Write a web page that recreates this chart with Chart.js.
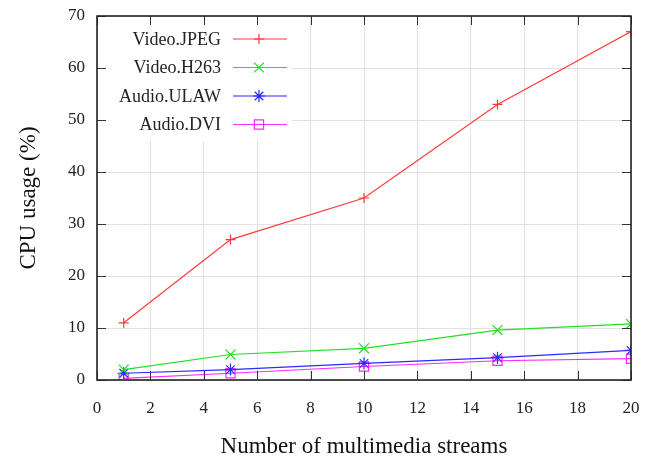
<!DOCTYPE html>
<html>
<head>
<meta charset="utf-8">
<script src="https://cdn.jsdelivr.net/npm/chart.js@4"></script>
<style>
  html, body { margin:0; padding:0; background:#fff; }
  #wrap { width:650px; height:461px; }
</style>
</head>
<body>
<div id="wrap"><canvas id="c" width="650" height="461"></canvas></div>
<script>
const streams = [1, 5, 10, 15, 20];
const videoJpeg = [11, 27, 35, 53, 67];
const videoH263 = [2.0, 4.9, 6.1, 9.6, 10.8];
const audioUlaw = [1.3, 2.0, 3.2, 4.3, 5.7];
const audioDvi  = [0.3, 1.3, 2.6, 3.7, 4.1];

const seriesNames = ['Video.JPEG', 'Video.H263', 'Audio.ULAW', 'Audio.DVI'];
const seriesColors = ['#ff3a3a', '#22e022', '#2a2aff', '#ff2aff'];
const seriesMarkers = ['cross', 'crossRot', 'star', 'rect'];
const markerSizes = [5, 7, 6, 6.5];

const serif = "'Liberation Serif', 'DejaVu Serif', serif";

function pts(vals){ return vals.map((v,i) => ({x: streams[i], y: v})); }

const allSeries = [videoJpeg, videoH263, audioUlaw, audioDvi];

const datasets = allSeries.map((vals, i) => ({
  label: seriesNames[i],
  data: pts(vals),
  borderColor: seriesColors[i],
  backgroundColor: 'rgba(0,0,0,0)',
  borderWidth: 1.2,
  pointStyle: seriesMarkers[i],
  pointRadius: markerSizes[i],
  pointBorderWidth: 1.2,
  pointBorderColor: seriesColors[i],
  tension: 0
}));

// gnuplot-ish frame, inward ticks and legend on the left with samples to the right
const framePlugin = {
  id: 'frame',
  afterDatasetsDraw(chart){
    const {ctx, chartArea: a, scales} = chart;
    ctx.save();

    // legend
    ctx.fillStyle = '#fff';
    ctx.fillRect(a.left + 1, a.top + 1, 194, 124);
    ctx.font = '18px ' + serif;
    ctx.textAlign = 'right';
    ctx.textBaseline = 'middle';
    for(let i=0;i<seriesNames.length;i++){
      const y = 39 + i*28.5;
      ctx.fillStyle = '#222';
      ctx.fillText(seriesNames[i], 221, y + 1);
      ctx.strokeStyle = seriesColors[i];
      ctx.lineWidth = 1.2;
      ctx.beginPath(); ctx.moveTo(233, y); ctx.lineTo(287, y); ctx.stroke();
      ctx.fillStyle = 'rgba(0,0,0,0)';
      Chart.helpers.drawPoint(ctx, {pointStyle: seriesMarkers[i], radius: markerSizes[i], borderWidth:1.2}, 259, y);
    }

    // ticks
    ctx.strokeStyle = '#333';
    ctx.lineWidth = 1;
    const tl = 9;
    ctx.beginPath();
    scales.x.ticks.forEach(t => {
      const px = Math.round(scales.x.getPixelForValue(t.value)) + 0.5;
      ctx.moveTo(px, a.bottom); ctx.lineTo(px, a.bottom - tl);
      ctx.moveTo(px, a.top); ctx.lineTo(px, a.top + tl);
    });
    scales.y.ticks.forEach(t => {
      const py = Math.round(scales.y.getPixelForValue(t.value)) + 0.5;
      ctx.moveTo(a.left, py); ctx.lineTo(a.left + tl, py);
      ctx.moveTo(a.right, py); ctx.lineTo(a.right - tl, py);
    });
    ctx.stroke();

    // border
    ctx.strokeStyle = '#222';
    ctx.lineWidth = 1.6;
    ctx.strokeRect(a.left, a.top, a.right - a.left, a.bottom - a.top);
    ctx.restore();
  }
};

new Chart(document.getElementById('c'), {
  type: 'line',
  data: { datasets },
  plugins: [framePlugin],
  options: {
    responsive: false,
    animation: false,
    layout: { padding: { top: 16, right: 19, left: 0, bottom: 0 } },
    plugins: { legend: { display: false }, tooltip: { enabled: false } },
    scales: {
      x: {
        type: 'linear', min: 0, max: 20,
        ticks: { stepSize: 2, color: '#222', padding: 18, font: { family: serif, size: 17 } },
        grid: { color: '#e2e2e2', drawTicks: false },
        border: { display: false },
        title: { display: true, text: 'Number of multimedia streams', color: '#111',
                 font: { family: serif, size: 23 }, padding: { top: 0, bottom: 0 } },
        afterFit(s){ s.height = 81; s.paddingLeft = 0; s.paddingRight = 0; }
      },
      y: {
        min: 0, max: 70,
        ticks: { stepSize: 10, color: '#222', padding: 12, font: { family: serif, size: 17 } },
        grid: { color: '#e2e2e2', drawTicks: false },
        border: { display: false },
        title: { display: true, text: 'CPU usage (%)', color: '#111',
                 font: { family: serif, size: 23 }, padding: { top: 15, bottom: 0 } },
        afterFit(s){ s.width = 97; s.paddingTop = 0; s.paddingBottom = 0; }
      }
    }
  }
});
</script>
</body>
</html>
